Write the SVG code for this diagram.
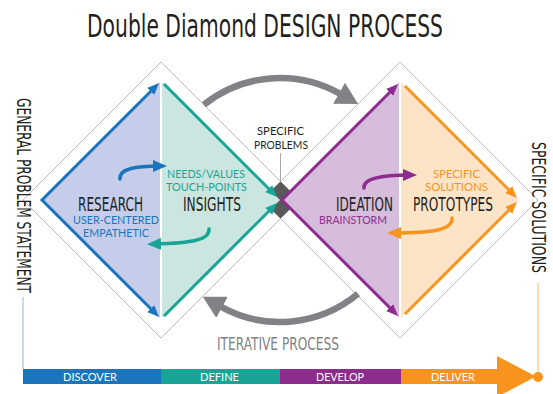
<svg xmlns="http://www.w3.org/2000/svg" width="553" height="394" viewBox="0 0 553 394">
<style>
.cond{font-family:"Liberation Sans Narrow","DejaVu Sans Condensed","Liberation Sans",sans-serif;}
.geo{font-family:"Lato","Open Sans","Liberation Sans",sans-serif;}
.outline{fill:none;stroke:#a7a9ac;stroke-width:0.8;}
.edge{fill:none;stroke-width:3;stroke-linejoin:miter;}
.curve{fill:none;stroke-width:3.5;stroke-linecap:round;}
.big{fill:none;stroke:#808285;stroke-width:6.5;}
.dark{fill:#231f20;}
</style>
<defs>
<marker id="mBlue" markerUnits="userSpaceOnUse" markerWidth="12" markerHeight="10" refX="6" refY="5" orient="auto-start-reverse"><path d="M0,0 L12,5 L0,10 z" fill="#1a75bc"/></marker>
<marker id="mTeal" markerUnits="userSpaceOnUse" markerWidth="12" markerHeight="10" refX="6" refY="5" orient="auto-start-reverse"><path d="M0,0 L12,5 L0,10 z" fill="#19a596"/></marker>
<marker id="mPurple" markerUnits="userSpaceOnUse" markerWidth="12" markerHeight="10" refX="6" refY="5" orient="auto-start-reverse"><path d="M0,0 L12,5 L0,10 z" fill="#8e2c8f"/></marker>
<marker id="mOrange" markerUnits="userSpaceOnUse" markerWidth="12" markerHeight="10" refX="6" refY="5" orient="auto-start-reverse"><path d="M0,0 L12,5 L0,10 z" fill="#f7941d"/></marker>
<marker id="cBlue" markerUnits="userSpaceOnUse" markerWidth="14" markerHeight="12" refX="7" refY="6" orient="auto"><path d="M0,0 L14,6 L0,12 z" fill="#1a75bc"/></marker>
<marker id="cTeal" markerUnits="userSpaceOnUse" markerWidth="14" markerHeight="12" refX="7" refY="6" orient="auto"><path d="M0,0 L14,6 L0,12 z" fill="#19a596"/></marker>
<marker id="cPurple" markerUnits="userSpaceOnUse" markerWidth="14" markerHeight="12" refX="7" refY="6" orient="auto"><path d="M0,0 L14,6 L0,12 z" fill="#8e2c8f"/></marker>
<marker id="cOrange" markerUnits="userSpaceOnUse" markerWidth="14" markerHeight="12" refX="7" refY="6" orient="auto"><path d="M0,0 L14,6 L0,12 z" fill="#f7941d"/></marker>
<marker id="mGray" markerUnits="userSpaceOnUse" markerWidth="22" markerHeight="24" refX="1" refY="12" orient="auto"><path d="M0,0 L22,12 L0,24 z" fill="#808285"/></marker>
</defs>
<rect width="553" height="394" fill="#ffffff"/>

<g id="title">
<text class="cond dark" x="87" y="37" font-size="32" textLength="356" lengthAdjust="spacingAndGlyphs">Double Diamond DESIGN PROCESS</text>
</g>

<g id="outlines">
<polygon class="outline" points="161,62 299,200 161,338 23,200"/>
<polygon class="outline" points="400,62 538,200 400,338 262,200"/>
<polygon id="specific-problems-diamond" points="280.5,181.5 299,200 280.5,218.5 262,200" fill="#58595b"/>
<line x1="280.5" y1="153" x2="280.5" y2="181.5" stroke="#a7a9ac" stroke-width="1"/>
</g>

<g id="discover">
<polygon points="42,200 160,82 160,318" fill="#c5cdea"/>
<text class="cond dark" x="78" y="211" font-size="19" textLength="65" lengthAdjust="spacingAndGlyphs">RESEARCH</text>
<text class="geo" x="73" y="224" font-size="11" fill="#1a75bc" textLength="86" lengthAdjust="spacingAndGlyphs">USER-CENTERED</text>
<text class="geo" x="83" y="237" font-size="11" fill="#1a75bc" textLength="66" lengthAdjust="spacingAndGlyphs">EMPATHETIC</text>
</g>

<g id="define">
<polygon points="162,82 280,200 162,318" fill="#cbe6e0"/>
<text class="cond dark" x="183" y="211" font-size="19" textLength="58" lengthAdjust="spacingAndGlyphs">INSIGHTS</text>
<text class="geo" x="167" y="178" font-size="11" fill="#19a596" textLength="78" lengthAdjust="spacingAndGlyphs">NEEDS/VALUES</text>
<text class="geo" x="166" y="191" font-size="11" fill="#19a596" textLength="81" lengthAdjust="spacingAndGlyphs">TOUCH-POINTS</text>
</g>

<g id="develop">
<polygon points="281,200 399,82 399,318" fill="#d7bddc"/>
<text class="cond dark" x="336" y="211" font-size="19" textLength="57" lengthAdjust="spacingAndGlyphs">IDEATION</text>
<text class="geo" x="319" y="224" font-size="11" fill="#8e2c8f" textLength="68" lengthAdjust="spacingAndGlyphs">BRAINSTORM</text>
</g>

<g id="deliver">
<polygon points="401,82 519,200 401,318" fill="#fee4c7"/>
<text class="cond dark" x="413" y="211" font-size="19" textLength="80" lengthAdjust="spacingAndGlyphs">PROTOTYPES</text>
<text class="geo" x="433" y="178" font-size="11" fill="#f7941d" textLength="47" lengthAdjust="spacingAndGlyphs">SPECIFIC</text>
<text class="geo" x="425" y="191" font-size="11" fill="#f7941d" textLength="63" lengthAdjust="spacingAndGlyphs">SOLUTIONS</text>
</g>

<g id="specific-problems">
<text class="geo dark" x="257" y="135" font-size="10.5" textLength="47" lengthAdjust="spacingAndGlyphs">SPECIFIC</text>
<text class="geo dark" x="254" y="149" font-size="10.5" textLength="54" lengthAdjust="spacingAndGlyphs">PROBLEMS</text>
</g>

<g id="connectors">
<path class="edge" stroke="#1a75bc" d="M154.8,87.2 L42,200 L154.8,312.8" marker-start="url(#mBlue)" marker-end="url(#mBlue)"/>
<path class="edge" stroke="#19a596" d="M164,84 L272.8,192.8" marker-end="url(#mTeal)"/>
<path class="edge" stroke="#19a596" d="M164,316 L272.8,207.2" marker-end="url(#mTeal)"/>
<path class="edge" stroke="#8e2c8f" d="M393.8,88.2 L282,200 L393.8,311.8" marker-start="url(#mPurple)" marker-end="url(#mPurple)"/>
<path class="edge" stroke="#f7941d" d="M405,86 L512.8,193.8" marker-end="url(#mOrange)"/>
<path class="edge" stroke="#f7941d" d="M405,314 L512.8,206.2" marker-end="url(#mOrange)"/>
<path class="curve" stroke="#1a75bc" d="M120,179 C119,169 135,166 160,166" marker-end="url(#cBlue)"/>
<path class="curve" stroke="#19a596" d="M209,229 C210,240 192,243 154,244" marker-end="url(#cTeal)"/>
<path class="curve" stroke="#8e2c8f" d="M364,188 C363,179 380,175 410,175" marker-end="url(#cPurple)"/>
<path class="curve" stroke="#f7941d" d="M452,218 C453,230 432,233 394,233" marker-end="url(#cOrange)"/>
<path class="big" d="M204,104.6 A122,122 0 0 1 339.9,93.7" marker-end="url(#mGray)"/>
<path class="big" d="M358,293.8 A122,122 0 0 1 221.2,306.9" marker-end="url(#mGray)"/>
<line x1="23" y1="297" x2="23" y2="369" stroke="#8ab6e2" stroke-width="1"/>
<line x1="538" y1="283" x2="538" y2="373" stroke="#f9b56a" stroke-width="1"/>
</g>

<g id="iterative-process">
<text class="cond" x="217" y="350" font-size="18.5" fill="#808285" textLength="122" lengthAdjust="spacingAndGlyphs">ITERATIVE PROCESS</text>
</g>

<g id="general-problem-statement">
<text class="cond dark" transform="translate(17,98) rotate(90)" x="0" y="0" font-size="20" textLength="195" lengthAdjust="spacingAndGlyphs">GENERAL PROBLEM STATEMENT</text>
</g>

<g id="specific-solutions">
<text class="cond dark" transform="translate(532,142) rotate(90)" x="0" y="0" font-size="20" textLength="131" lengthAdjust="spacingAndGlyphs">SPECIFIC SOLUTIONS</text>
</g>

<g id="phase-bar">
<rect x="23" y="369" width="138" height="15" fill="#1a75bc"/>
<rect x="161" y="369" width="119" height="15" fill="#19a596"/>
<rect x="280" y="369" width="121" height="15" fill="#8e2c8d"/>
<rect x="401" y="369" width="97" height="15" fill="#f7941d"/>
<polygon points="497,356 536,376.5 497,397" fill="#f7941d"/>
<circle cx="538" cy="377" r="5" fill="#f7941d"/>
<text class="geo" x="63" y="381" font-size="11.5" fill="#ffffff" textLength="54" lengthAdjust="spacingAndGlyphs">DISCOVER</text>
<text class="geo" x="200" y="381" font-size="11.5" fill="#ffffff" textLength="39" lengthAdjust="spacingAndGlyphs">DEFINE</text>
<text class="geo" x="316" y="381" font-size="11.5" fill="#ffffff" textLength="48" lengthAdjust="spacingAndGlyphs">DEVELOP</text>
<text class="geo" x="431" y="381" font-size="11.5" fill="#ffffff" textLength="44" lengthAdjust="spacingAndGlyphs">DELIVER</text>
</g>
</svg>
